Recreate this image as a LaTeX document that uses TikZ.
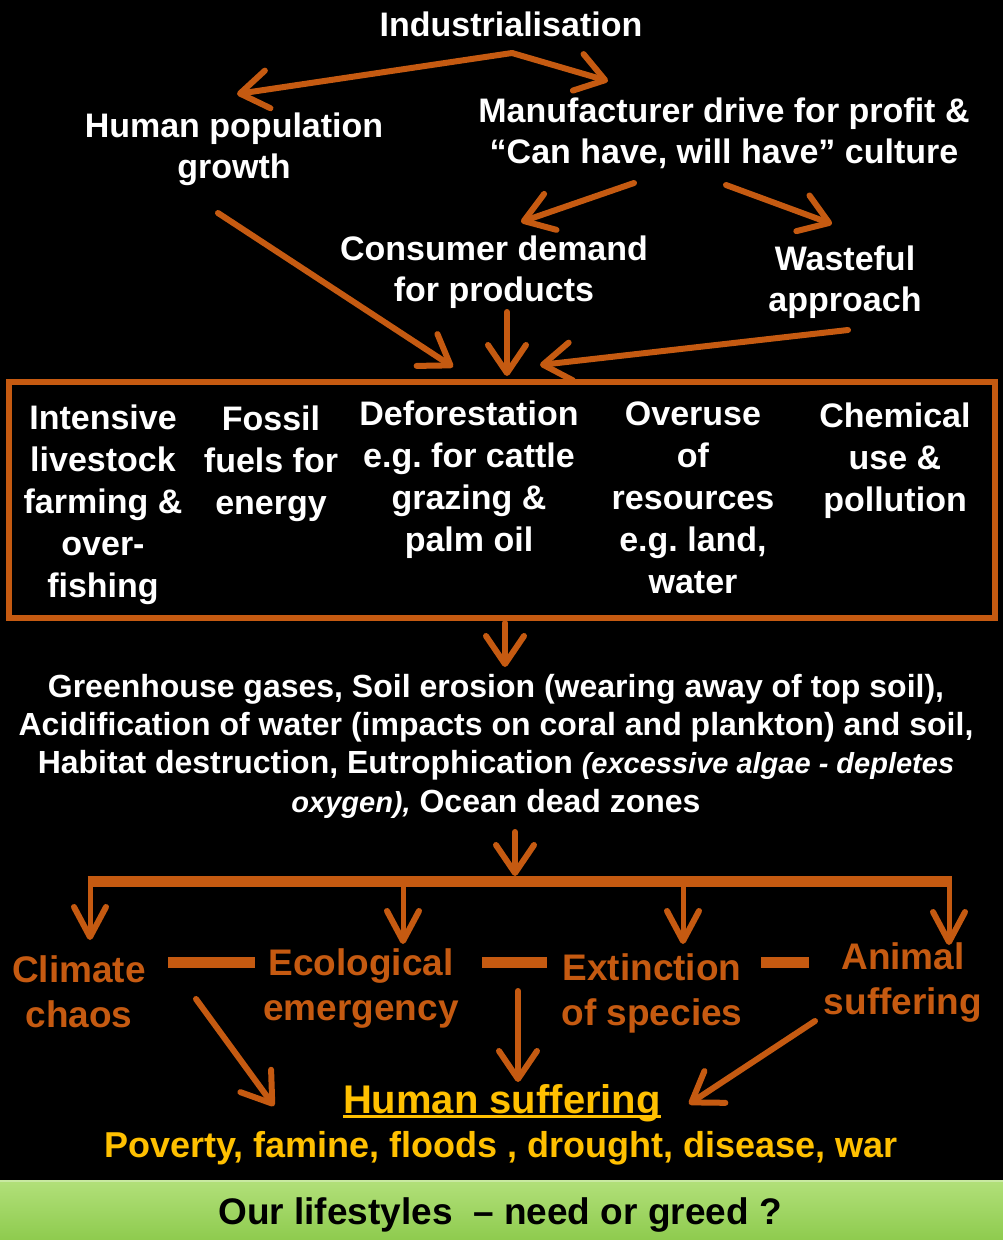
\documentclass[tikz,border=0pt]{standalone}
\usepackage{fontspec}
\setmainfont{Liberation Sans}
\usetikzlibrary{arrows.meta}
\definecolor{burnt}{HTML}{C55A11}
\definecolor{gold}{HTML}{FFC000}
\definecolor{barlight}{HTML}{B2E07A}
\definecolor{bargreen}{HTML}{8ECB4E}
\newcommand\myuline[1]{\setbox0\hbox{#1}\rlap{\raisebox{-5pt}{\rule{\wd0}{3pt}}}\box0}
\frenchspacing
\begin{document}
\begin{tikzpicture}[x=1pt,y=-1pt,
  wtxt/.style={text=white,font=\bfseries\fontsize{34}{41}\selectfont,align=center,inner sep=0pt,anchor=base},
  btxt/.style={text=white,font=\bfseries\fontsize{34}{41.8}\selectfont,align=center,inner sep=0pt,anchor=base},
  gtxt/.style={text=white,font=\bfseries\fontsize{32}{38.2}\selectfont,align=center,inner sep=0pt,anchor=base},
  otxt/.style={text=burnt,font=\bfseries\fontsize{37}{45}\selectfont,align=center,inner sep=0pt,anchor=base},
  arr/.style={draw=burnt,line width=6pt,line cap=round,-{Straight Barb[length=28pt,width=38pt,round]}},
  darr/.style={draw=burnt,line width=5pt,line cap=round,-{Straight Barb[length=30pt,width=32pt,line width=6pt,round]}},
  dashbar/.style={draw=burnt,line width=11pt}
]
\useasboundingbox (0,0) rectangle (1003,1240);
\fill[black] (0,0) rectangle (1003,1240);

% top texts (base anchor = baseline of last line)
\node[wtxt] (ind) at (511,36) {Industrialisation};
\node[wtxt] (hpg) at (234,178) {Human population\\growth};
\node[wtxt] (man) at (724,163) {Manufacturer drive for profit \&\\“Can have, will have” culture};
\node[wtxt] (con) at (494,301) {Consumer demand\\for products};
\node[wtxt] (was) at (845,311) {Wasteful\\approach};

% frame
\node[draw=burnt,line width=6pt,minimum width=986pt,minimum height=236pt,inner sep=0pt] (frame) at (502,500) {};
\fill[black] (337,385) rectangle (601,394);

\node[btxt] (c1) at (103,597) {Intensive\\livestock\\farming \&\\over-\\fishing};
\node[btxt] (c2) at (271,514) {Fossil\\fuels for\\energy};
\node[btxt] (c3) at (469,551) {Deforestation\\e.g. for cattle\\grazing \&\\palm oil};
\node[btxt] (c4) at (693,593) {Overuse\\of\\resources\\e.g. land,\\water};
\node[btxt] (c5) at (895,511) {Chemical\\use \&\\pollution};

% effects text
\node[gtxt] (gh) at (496,812) {Greenhouse gases, Soil erosion (wearing away of top soil),\\Acidification of water (impacts on coral and plankton) and soil,\\Habitat destruction, Eutrophication {\itshape\fontsize{29}{38.2}\selectfont (excessive algae - depletes}\\{\itshape\fontsize{29}{38.2}\selectfont oxygen),} Ocean dead zones};

% consequences
\node[otxt] (cc) at (79,1027) {Climate\\chaos};
\node[otxt] (ee) at (361,1020) {Ecological\\emergency};
\node[otxt] (ex) at (652,1025) {Extinction\\of species};
\node[otxt] (an) at (903,1014) {Animal\\suffering};

\node[text=gold,font=\bfseries\fontsize{40}{48}\selectfont,inner sep=0pt,anchor=base] (hs) at (502,1113) {\myuline{Human suffering}};
\node[text=gold,font=\bfseries\fontsize{36}{44}\selectfont,inner sep=0pt,anchor=base] (pov) at (501,1157) {Poverty, famine, floods , drought, disease, war};

% bottom bar
\shade[top color=barlight,bottom color=bargreen] (0,1180) rectangle (1003,1240);
\draw[barlight!70!white,line width=2pt] (0,1181) -- (1003,1181);
\node[text=black,font=\bfseries\fontsize{37}{44}\selectfont,inner sep=0pt,anchor=base] (bar) at (500,1224) {Our lifestyles \ – need or greed ?};

% coordinates for connectors
\coordinate (apex) at (512,53);
\coordinate (hpgin) at (237,94);
\coordinate (manin) at (608,81);
\coordinate (hpgout) at (218,213);
\coordinate (f1) at (453,367);
\coordinate (conout) at (507,312);
\coordinate (f2) at (507,376);
\coordinate (wasout) at (848,330);
\coordinate (f3) at (540,365);
\coordinate (manout1) at (634,183);
\coordinate (conin) at (521,222);
\coordinate (manout2) at (726,185);
\coordinate (wasin) at (832,224);
\coordinate (frameout) at (505,623);
\coordinate (ghin) at (505,667);
\coordinate (ghout) at (515,832);
\coordinate (brk) at (515,876);
\coordinate (bl) at (90,881);
\coordinate (br) at (949,881);
\coordinate (ccin) at (90,940);
\coordinate (eetop) at (403,881);
\coordinate (eein) at (403,944);
\coordinate (extop) at (683,881);
\coordinate (exin) at (683,944);
\coordinate (anin) at (949,945);
\coordinate (ccout) at (196,999);
\coordinate (hs1) at (274,1106);
\coordinate (exout) at (518,991);
\coordinate (hs2) at (518,1082);
\coordinate (anout) at (815,1021);
\coordinate (hs3) at (689,1104);

% connectors
\draw[arr] (apex) -- (hpgin);
\draw[arr] (apex) -- (manin);
\draw[arr] (hpgout) -- (f1);
\draw[arr] (conout) -- (f2);
\draw[arr] (wasout) -- (f3);
\draw[arr] (manout1) -- (conin);
\draw[arr] (manout2) -- (wasin);
\draw[arr] (frameout) -- (ghin);
\draw[arr] (ghout) -- (brk);
\draw[burnt,line width=11pt] ([xshift=-2.5pt]bl) -- ([xshift=2.5pt]br);
\draw[darr] (bl) -- (ccin);
\draw[darr] (eetop) -- (eein);
\draw[darr] (extop) -- (exin);
\draw[darr] (br) -- (anin);
\draw[dashbar] (168,962) -- (255,962);
\draw[dashbar] (482,962) -- (547,962);
\draw[dashbar] (761,962) -- (809,962);
\draw[arr] (ccout) -- (hs1);
\draw[arr] (exout) -- (hs2);
\draw[arr] (anout) -- (hs3);
\end{tikzpicture}
\end{document}
